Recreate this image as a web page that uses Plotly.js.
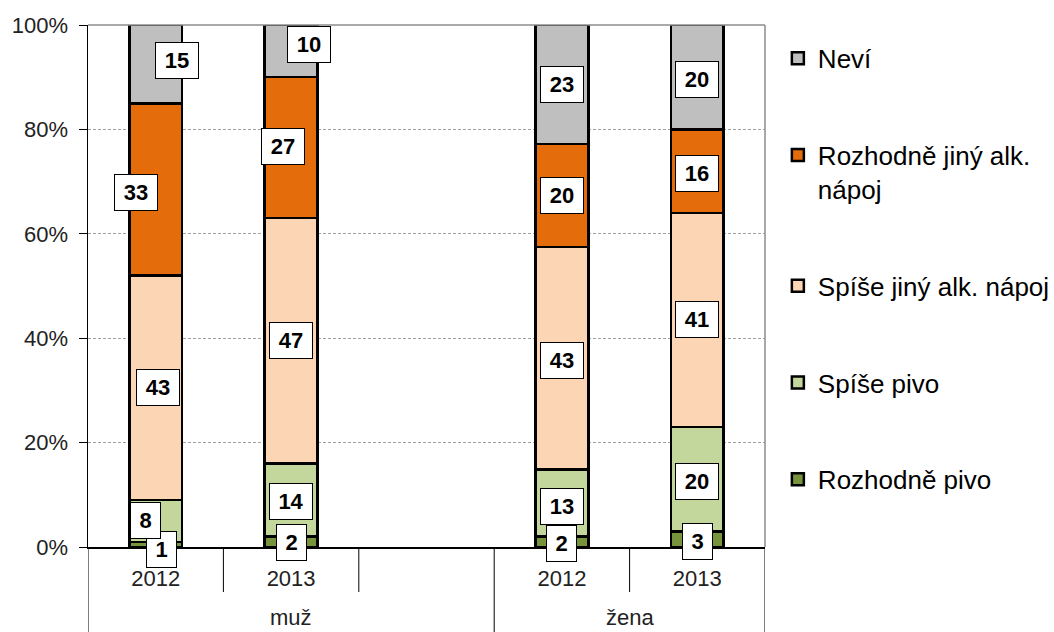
<!DOCTYPE html>
<html>
<head>
<meta charset="utf-8">
<script src="https://cdn.plot.ly/plotly-3.0.1.min.js"></script>
<style>html,body{margin:0;padding:0;background:#fff;}#chart{width:1054px;height:632px;}</style>
</head>
<body>
<div id="chart"></div>
<script>
// ---- data ----
const groups = ['muž', 'muž', 'muž', 'žena', 'žena'];
const years = ['2012', '2013', '', '2012', '2013'];
const seriesNames = ['Rozhodně pivo', 'Spíše pivo', 'Spíše jiný alk. nápoj', 'Rozhodně jiný alk.<br>nápoj', 'Neví'];
const rozhodnePivo = [1, 2, null, 2, 3];
const spisePivo = [8, 14, null, 13, 20];
const spiseJiny = [43, 47, null, 43, 41];
const rozhodneJiny = [33, 27, null, 20, 16];
const nevi = [15, 10, null, 23, 20];
const yTickVals = [0, 20, 40, 60, 80, 100];
const yTickText = ['0%', '20%', '40%', '60%', '80%', '100%'];

// ---- style ----
const colors = ['#77933C', '#C3D69B', '#FCD5B5', '#E46C0A', '#BFBFBF'];
const font = 'Liberation Sans, Arial, sans-serif';
const plotH = 632 - 25 - 85;
// label offsets (px) [xshift, yshift] per category and series
const shifts = [
  [[6, -5], [-10, 0], [2, 0], [-20, -3], [21, 4]],
  [[0, -1], [0, -1], [0, 0], [-8, 1], [18, 7]],
  [[0, 0], [0, 0], [0, 0], [0, 0], [0, 0]],
  [[0, -2], [0, -3], [0, -2], [0, 0], [0, 0]],
  [[0, -2], [0, -2], [0, 0], [0, -2], [0, -2]]
];

const series = [rozhodnePivo, spisePivo, spiseJiny, rozhodneJiny, nevi];
const idx = years.map((_, i) => i);

const traces = series.map((vals, i) => ({
  type: 'bar',
  name: seriesNames[i],
  x: idx,
  y: vals,
  legendgroup: 'g' + i,
  legendrank: series.length - i,
  marker: {color: colors[i], line: {color: '#000', width: 2.5}},
  hoverinfo: 'skip'
}));

// annotation labels computed from cumulative normalized sums
const annotations = [];
for (let c = 0; c < years.length; c++) {
  let total = 0;
  series.forEach(s => { if (s[c] != null) total += s[c]; });
  if (!total) continue;
  let cum = 0;
  series.forEach((s, i) => {
    const v = s[c];
    if (v == null) return;
    const mid = (cum + v / 2) / total * 100;
    cum += v;
    const txt = String(v);
    annotations.push({
      x: c, y: mid, xref: 'x', yref: 'y',
      text: '<b>' + txt + '</b>',
      showarrow: false,
      bgcolor: '#fff', bordercolor: '#000', borderwidth: 1,
      width: txt.length > 1 ? 40 : 27, height: 33,
      font: {family: font, size: 22, color: '#000'},
      xshift: shifts[c][i][0], yshift: shifts[c][i][1]
    });
  });
}

// group labels and boundary lines (hierarchical category axis)
const shapes = [
  {type: 'line', xref: 'paper', yref: 'paper', x0: 0, x1: 1, y0: 1, y1: 1, line: {color: '#8c8c8c', width: 1.5}},
  {type: 'line', xref: 'paper', yref: 'paper', x0: 1, x1: 1, y0: 0, y1: 1, line: {color: '#8c8c8c', width: 1.5}}
];
const uniqueGroups = [];
groups.forEach((g, i) => {
  const last = uniqueGroups[uniqueGroups.length - 1];
  if (!last || last.name !== g) uniqueGroups.push({name: g, start: i, end: i});
  else last.end = i;
});
for (let b = 0; b <= years.length; b++) {
  const isGroup = b === 0 || b === years.length || groups[b] !== groups[b - 1];
  shapes.push({
    type: 'line', xref: 'x', yref: 'paper', x0: b - 0.5, x1: b - 0.5,
    y0: 0, y1: isGroup ? -85 / plotH : -45 / plotH,
    line: {color: '#000', width: 1}
  });
}
uniqueGroups.forEach(g => {
  annotations.push({
    x: (g.start + g.end) / 2, y: 0, xref: 'x', yref: 'paper',
    text: g.name, showarrow: false, yanchor: 'middle', yshift: -70,
    font: {family: font, size: 22, color: '#222'}
  });
});

const layout = {
  width: 1054, height: 632,
  margin: {l: 88, r: 289, t: 25, b: 85, autoexpand: false},
  paper_bgcolor: '#fff', plot_bgcolor: '#fff',
  barmode: 'stack', barnorm: 'percent',
  bargap: 0.61,
  font: {family: font, size: 22, color: '#222'},
  xaxis: {
    range: [-0.5, years.length - 0.5],
    tickvals: idx, ticktext: years,
    showline: true, linecolor: '#000', linewidth: 1.5,
    ticks: '', ticklabelstandoff: 11,
    tickfont: {family: font, size: 22, color: '#222'},
    showgrid: false, zeroline: false, fixedrange: true
  },
  yaxis: {
    range: [0, 100], tickvals: yTickVals, ticktext: yTickText,
    showline: true, linecolor: '#000', linewidth: 1.5,
    ticks: 'outside', ticklen: 8, tickcolor: '#000', ticklabelstandoff: 6,
    showgrid: true, gridcolor: '#a0a0a0', griddash: '3px,2px', gridwidth: 1,
    zeroline: false,
    tickfont: {family: font, size: 22, color: '#222'}, fixedrange: true
  },
  legend: {
    x: 1.019, xanchor: 'left', y: 0.981, yanchor: 'top',
    traceorder: 'grouped', tracegroupgap: 60, valign: 'top',
    font: {family: font, size: 26, color: '#000'},
    bgcolor: 'rgba(0,0,0,0)'
  },
  shapes: shapes,
  annotations: annotations,
  showlegend: true
};

Plotly.newPlot('chart', traces, layout, {displayModeBar: false, staticPlot: true});
</script>
</body>
</html>
